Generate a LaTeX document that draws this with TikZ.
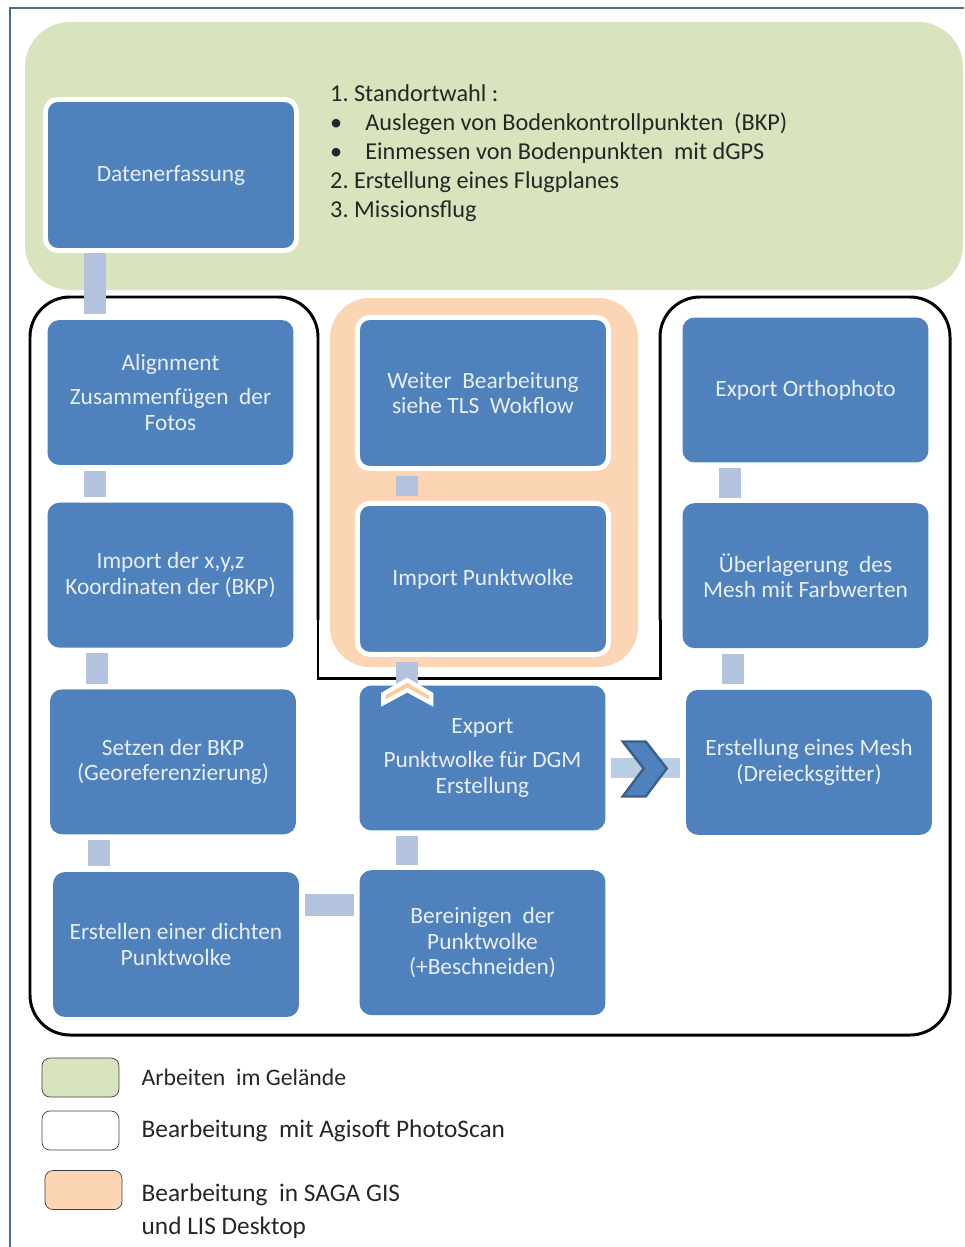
\documentclass[tikz,border=0pt]{standalone}
\usepackage{fontspec}
\setmainfont{Carlito}
\usepackage{tikz}
\usetikzlibrary{positioning,calc}
\definecolor{boxblue}{HTML}{4F81BD}
\definecolor{boxtext}{HTML}{E8EEF7}
\definecolor{barblue}{HTML}{B3C3DD}
\definecolor{barlight}{HTML}{B9CDE5}
\definecolor{fieldgreen}{HTML}{D7E4BD}
\definecolor{sagaorange}{HTML}{FCD5B5}
\definecolor{chevorange}{HTML}{FBCB9E}
\definecolor{framesteel}{HTML}{4A6C9B}
\definecolor{chevdark}{HTML}{3B5E8C}

\begin{document}
\begin{tikzpicture}[x=0.02cm, y=-0.02cm, font=\fontsize{13.3}{14.7}\selectfont]
\tikzstyle{stepbox}=[fill=boxblue, text=boxtext, rounded corners=0.24cm, align=center, minimum width=4.92cm, minimum height=2.9cm, inner sep=2pt]
\tikzstyle{framedbox}=[stepbox, draw=white, line width=2.8pt, minimum width=5.02cm, minimum height=3.02cm]
\tikzstyle{linkbar}=[draw=barblue, line width=0.44cm, shorten <=3pt, shorten >=3pt]
\tikzstyle{legendbox}=[draw=black!75, rounded corners=0.16cm, minimum width=1.54cm, minimum height=0.78cm]
\tikzstyle{legendtext}=[align=left, text=black!85, font=\fontsize{14.4}{18.7}\selectfont, inner sep=0pt]
\useasboundingbox (0,0) rectangle (964,1247);
\draw[framesteel, line width=1.4pt] (964,8) -- (10,8) -- (10,1247);
\fill[fieldgreen, rounded corners=0.9cm] (25,22) rectangle (963,290);
\fill[sagaorange, rounded corners=0.8cm] (330,298) rectangle (638,667);
\draw[line width=1.7pt] (318,620) -- (318,678) -- (660,678) -- (660,620);
\draw[line width=1.7pt, rounded corners=0.8cm] (660,620) -- (660,297) -- (950,297) -- (950,1035) -- (30,1035) -- (30,297) -- (318,297) -- (318,620);

\node[anchor=west, align=left, text=black!85, font=\fontsize{13.8}{16.5}\selectfont] (fieldwork) at (324,153)
  {1.\ Standortwahl :\\
   \makebox[20pt][l]{\textbullet}Auslegen von Bodenkontrollpunkten \ (BKP)\\
   \makebox[20pt][l]{\textbullet}Einmessen von Bodenpunkten \ mit dGPS\\
   2.\ Erstellung eines Flugplanes\\
   3.\ Missionsflug};

\node[framedbox] (dat) at (171,175) {Datenerfassung};

\node[stepbox] (align) at (170.5,392.5) {Alignment\\[5pt]Zusammenfügen \ der\\Fotos};
\node[stepbox, below=0.74cm of align] (imp) {Import der x,y,z\\Koordinaten der (BKP)};
\node[stepbox, below=0.82cm of imp, xshift=0.05cm] (setz) {Setzen der BKP\\(Georeferenzierung)};
\node[stepbox, below=0.74cm of setz, xshift=0.06cm] (erst) {Erstellen einer dichten\\Punktwolke};

\node[framedbox] (weiter) at (483,393) {Weiter \ Bearbeitung\\siehe TLS \ Wokflow};
\node[framedbox, below=0.6cm of weiter] (impw) {Import Punktwolke};
\node[stepbox] (expw) at (482.5,758) {Export\\[5pt]Punktwolke für DGM\\Erstellung};
\node[stepbox, below=0.78cm of expw] (bereinig) {Bereinigen \ der\\Punktwolke\\(+Beschneiden)};

\node[stepbox] (ortho) at (805.5,390) {Export Orthophoto};
\node[stepbox, below=0.8cm of ortho] (ueber) {Überlagerung \ des\\Mesh mit Farbwerten};
\node[stepbox, below=0.82cm of ueber, xshift=0.07cm] (mesh) {Erstellung eines Mesh\\(Dreiecksgitter)};

\draw[linkbar, shorten <=0pt] ([xshift=0.96cm]align.north west |- dat.south) -- ([xshift=0.96cm]align.north west);
\draw[linkbar] ([xshift=0.96cm]align.south west) -- ([xshift=0.96cm]align.south west |- imp.north);
\draw[linkbar] ([xshift=0.99cm]imp.south west) -- ([xshift=0.99cm]imp.south west |- setz.north);
\draw[linkbar] ([xshift=0.98cm]setz.south west) -- ([xshift=0.98cm]setz.south west |- erst.north);
\draw[linkbar] ([yshift=-0.66cm]erst.north east) -- ([yshift=-0.66cm]erst.north east -| bereinig.west);
\draw[linkbar] ([xshift=0.96cm]bereinig.north west) -- ([xshift=0.96cm]bereinig.north west |- expw.south);
\draw[linkbar, shorten <=-4pt] ([xshift=0.96cm]expw.north west) -- ([xshift=0.96cm]expw.north west |- impw.south);
\draw[linkbar] ([xshift=0.96cm]expw.north west |- impw.north) -- ([xshift=0.96cm]expw.north west |- weiter.south);
\draw[linkbar, draw=barlight, line width=0.4cm] ([yshift=-1.65cm]expw.north east) -- ([yshift=-1.65cm]expw.north east -| mesh.west);
\draw[linkbar] ([xshift=0.94cm]mesh.north west) -- ([xshift=0.94cm]mesh.north west |- ueber.south);
\draw[linkbar] ([xshift=0.95cm]ueber.north west) -- ([xshift=0.95cm]ueber.north west |- ortho.south);

\draw[fill=chevorange, draw=white, line width=2.4pt, line join=miter] ([xshift=0.96cm, yshift=0.1cm]expw.north west) -- ++(24,14) -- ++(0,9) -- ++(-24,-13) -- ++(-24,13) -- ++(0,-9) -- cycle;
\draw[fill=boxblue, draw=chevdark, line width=1.4pt, line join=miter] ([xshift=-1.26cm, yshift=-1.04cm]mesh.north west) -- ++(23,0) -- ++(21,27) -- ++(-21,28) -- ++(-23,0) -- ++(21,-28) -- cycle;

\node[legendbox, fill=fieldgreen] (lgreen) at (80.5,1077.5) {};
\node[legendbox, fill=white] (lwhite) at (80.5,1130.5) {};
\node[legendbox, fill=sagaorange] (lorange) at (83.5,1190) {};
\node[legendtext, font=\fontsize{13.5}{18.7}\selectfont, right=0.44cm of lgreen] (tgreen) {Arbeiten \ im Gelände};
\node[legendtext, right=0.44cm of lwhite] (twhite) {Bearbeitung \ mit Agisoft PhotoScan};
\node[legendtext, right=0.38cm of lorange, yshift=-0.42cm] (torange) {Bearbeitung \ in SAGA GIS\\und LIS Desktop};
\end{tikzpicture}
\end{document}
